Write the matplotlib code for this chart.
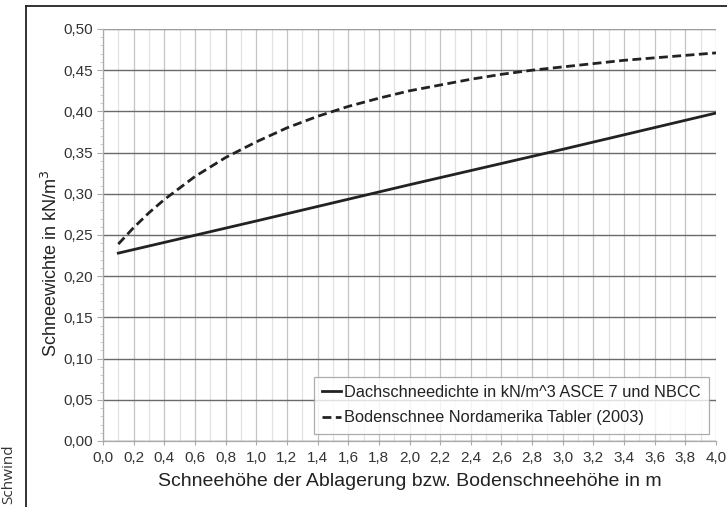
import matplotlib
matplotlib.use("Agg")
import matplotlib.pyplot as plt
from matplotlib.lines import Line2D
from matplotlib.ticker import MultipleLocator, FuncFormatter

plt.rcParams["font.family"] = ["Liberation Sans", "DejaVu Sans"]

# Schneehöhe in m
hoehe = [0.1, 0.2, 0.3, 0.4, 0.5, 0.6, 0.8, 1.0, 1.2, 1.4, 1.6, 1.8,
         2.0, 2.2, 2.4, 2.6, 2.8, 3.0, 3.2, 3.4, 3.6, 3.8, 4.0]
# Bodenschnee Nordamerika Tabler (2003)
boden = [0.239, 0.259, 0.277, 0.293, 0.307, 0.321, 0.344, 0.363, 0.380,
         0.394, 0.406, 0.416, 0.425, 0.432, 0.439, 0.445, 0.450, 0.454,
         0.458, 0.462, 0.465, 0.468, 0.471]
# Dachschneedichte ASCE 7 und NBCC
dach_x = [0.1, 1.0, 2.0, 3.0, 4.0]
dach = [0.228, 0.267, 0.311, 0.354, 0.398]

label_dach = "Dachschneedichte in kN/m^3 ASCE 7 und NBCC"
label_boden = "Bodenschnee Nordamerika Tabler (2003)"

fig = plt.figure(figsize=(7.27, 5.07), dpi=100)
ax = fig.add_axes([103 / 727, 66 / 507, 613 / 727, 412 / 507])

ax.set_xlim(0, 4.0)
ax.set_ylim(0, 0.5)

# gridlines
ax.xaxis.set_major_locator(MultipleLocator(0.2))
ax.xaxis.set_minor_locator(MultipleLocator(0.1))
ax.yaxis.set_major_locator(MultipleLocator(0.05))
ax.yaxis.set_minor_locator(MultipleLocator(0.01))
ax.grid(axis="x", which="minor", color="#e2e2e2", lw=0.9)
ax.grid(axis="x", which="major", color="#c4c4c4", lw=0.9)
ax.grid(axis="y", which="major", color="#6a6a6a", lw=1.0)
ax.set_axisbelow(True)

ax.yaxis.set_major_formatter(FuncFormatter(lambda v, p: f"{v:.2f}".replace(".", ",")))
ax.xaxis.set_major_formatter(FuncFormatter(lambda v, p: f"{v:.1f}".replace(".", ",")))

ax.tick_params(axis="both", which="major", labelsize=11, colors="#aaaaaa",
               labelcolor="#333333", length=4, width=0.8)
ax.tick_params(axis="y", which="minor", length=2.5, colors="#cccccc", width=0.7)
ax.tick_params(axis="x", which="minor", length=0)
ax.tick_params(axis="x", which="major", length=3, pad=4)

for side in ["top", "right"]:
    ax.spines[side].set_visible(False)
for side in ["left", "bottom"]:
    ax.spines[side].set_color("#aaaaaa")
    ax.spines[side].set_linewidth(0.9)
ax.axhline(0.5, color="#aaaaaa", lw=1.2, zorder=1)

ax.plot(dach_x, dach, color="#222222", lw=2.0, label=label_dach, zorder=3)
ax.plot(hoehe, boden, color="#222222", lw=2.0, ls=(0, (3.2, 1.6)),
        label=label_boden, zorder=3)

ax.set_ylabel("Schneewichte in kN/m$^3$", fontsize=13, color="#222222")
ax.yaxis.set_label_coords(-0.069, 0.43)
ax.set_xlabel("Schneehöhe der Ablagerung bzw. Bodenschneehöhe in m",
              fontsize=14, color="#222222", labelpad=6)

leg = ax.legend(loc="lower right", bbox_to_anchor=(0.988, 0.018),
                fontsize=11.8, frameon=True, fancybox=False, handlelength=1.2,
                handletextpad=0.15, borderpad=0.5, labelspacing=0.65,
                borderaxespad=0)
leg.get_frame().set_edgecolor("#999999")
leg.get_frame().set_linewidth(0.9)
for t in leg.get_texts():
    t.set_color("#222222")

# outer frame of the page figure
fig.add_artist(Line2D([26 / 727, 26 / 727], [0, 1 - 6 / 507],
                      transform=fig.transFigure, color="#222222", lw=1.3))
fig.add_artist(Line2D([26 / 727, 1], [1 - 6 / 507, 1 - 6 / 507],
                      transform=fig.transFigure, color="#222222", lw=1.3))
fig.text(0.002, 0.006, "Schwind", rotation=90, ha="left", va="bottom",
         fontsize=11, color="#333333", family=["Open Sans", "DejaVu Sans"])

fig.savefig("out.png", dpi=100)
